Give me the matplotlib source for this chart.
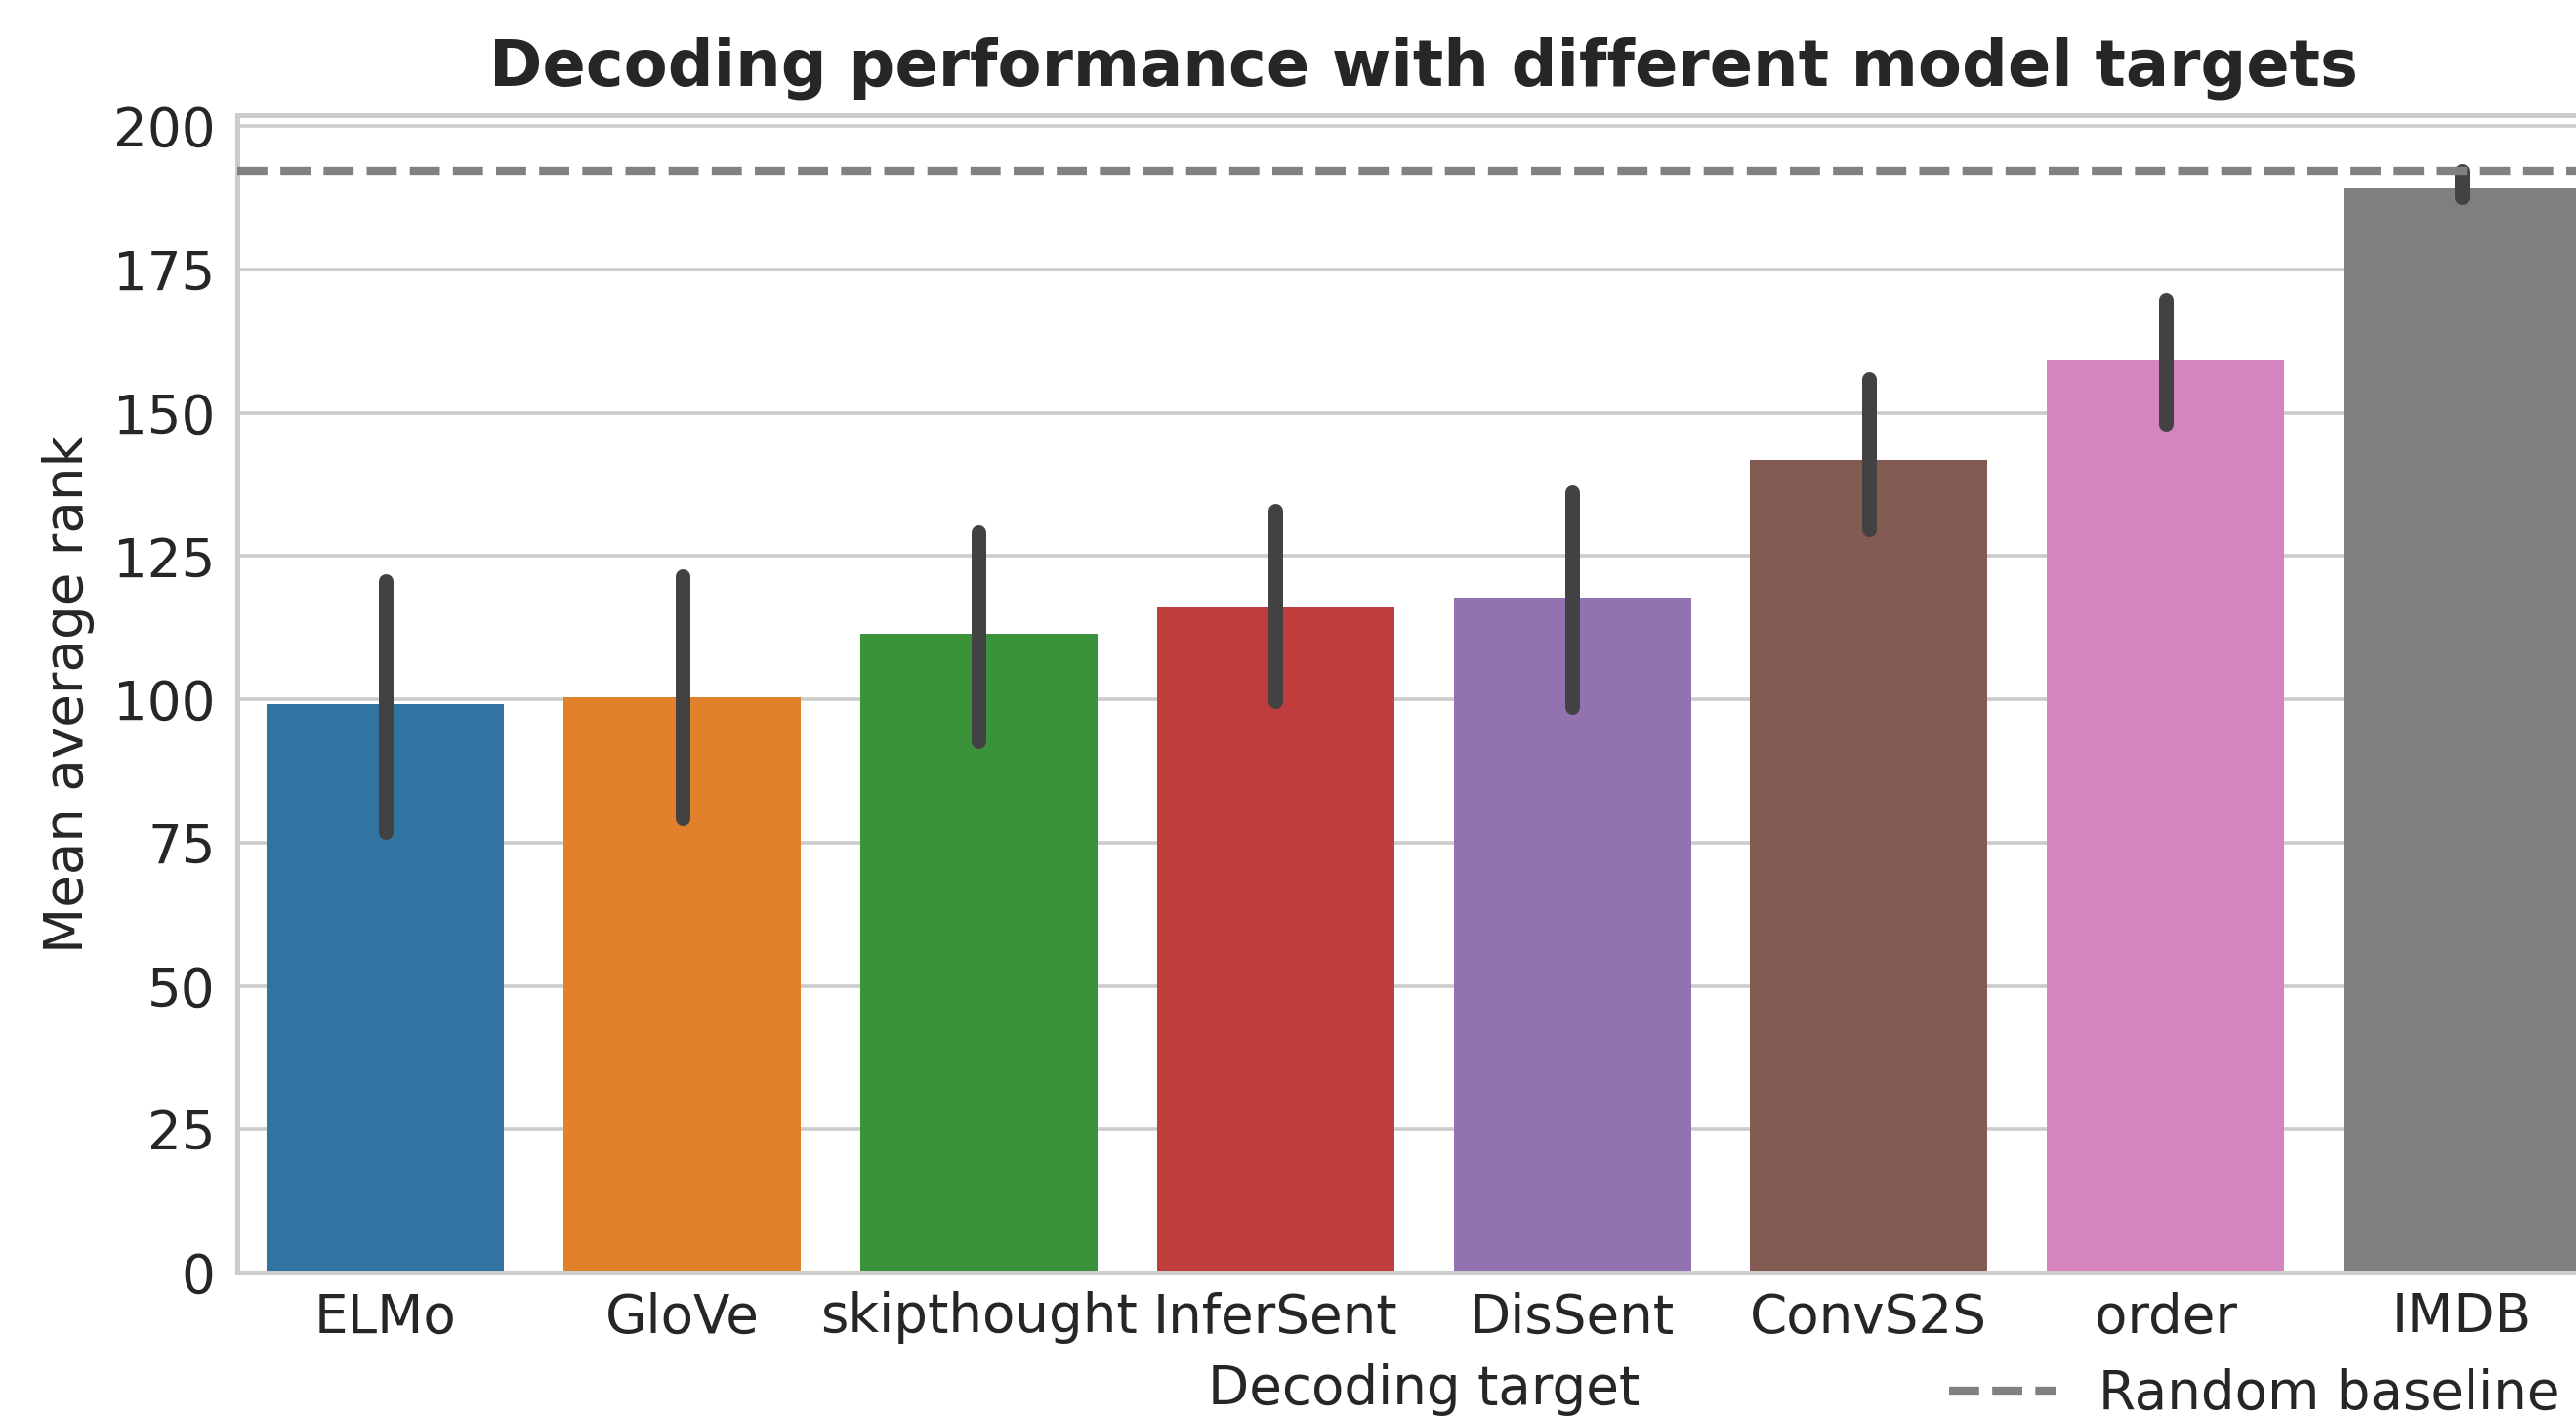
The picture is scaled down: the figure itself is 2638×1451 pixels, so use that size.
import numpy as np
import matplotlib
matplotlib.use('Agg')
import matplotlib.pyplot as plt

####################################################################################################
targets = ['ELMo', 'GloVe', 'skipthought', 'InferSent', 'DisSent', 'ConvS2S', 'order', 'IMDB']
mean_rank = [99.1, 100.3, 111.5, 116.1, 117.8, 141.7, 159.2, 189.2]
ci_low = [76.8, 79.2, 92.7, 99.6, 98.7, 129.7, 148.1, 187.5]
ci_high = [120.6, 121.4, 129.2, 132.9, 136.1, 155.9, 169.7, 192.2]
random_baseline = 192.2

colors = ['#3274a1', '#e1812c', '#3a923a', '#c03d3e', '#9372b2', '#845b53', '#d684bd', '#7f7f7f']
text_color = '#262626'
fs = 19.7

####################################################################################################
plt.rcParams['font.family'] = 'DejaVu Sans'
plt.rcParams['text.color'] = text_color
plt.rcParams['axes.labelcolor'] = text_color
plt.rcParams['xtick.color'] = text_color
plt.rcParams['ytick.color'] = text_color

fig = plt.figure(figsize=(13.19, 7.255), dpi=200)
ax = fig.add_axes([0.0921, 0.1020, 0.9213, 0.8167])

x = np.arange(len(targets))
ax.bar(x, mean_rank, width=0.8, color=colors, zorder=2)

for i in x:
    ax.plot([i, i], [ci_low[i], ci_high[i]], color='#424242', lw=5.4,
            solid_capstyle='round', zorder=3)

ax.axhline(random_baseline, color='#808080', lw=3.0, ls='--', zorder=4,
           label='Random baseline')

ax.set_xlim(-0.5, 7.5)
ax.set_ylim(0, 201.9)
ax.set_yticks(np.arange(0, 201, 25))
ax.set_xticks(x)
ax.set_xticklabels(targets)

ax.yaxis.grid(True, color='#cccccc', lw=1.3, zorder=0)
ax.set_axisbelow(True)
for s in ax.spines.values():
    s.set_color('#cccccc')
    s.set_linewidth(1.8)
ax.tick_params(axis='y', length=0, labelsize=fs, pad=8)
ax.tick_params(axis='x', length=0, labelsize=fs, pad=7)

ax.set_xlabel('Decoding target', fontsize=fs, labelpad=7)
ax.set_ylabel('Mean average rank', fontsize=fs, labelpad=7)
ax.set_title('Decoding performance with different model targets', fontsize=23.6,
             fontweight='bold', pad=11)

fig.legend(loc='center right', bbox_to_anchor=(1.002, 0.016), frameon=False,
           fontsize=fs, handlelength=2.0, handletextpad=0.8, borderaxespad=0)

fig.savefig('out.png', dpi=200)
